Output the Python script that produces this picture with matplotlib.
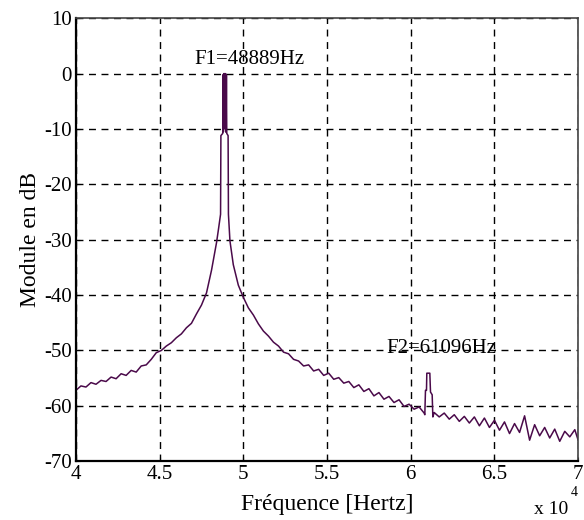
import numpy as np
import matplotlib
matplotlib.use("Agg")
import matplotlib.pyplot as plt

plt.rcParams['font.family'] = ['Liberation Serif', 'DejaVu Serif']
plt.rcParams['axes.unicode_minus'] = False

# ----- spectrum (frequency in units of 1e4 Hz, module in dB) -----
freq_left = [4.00, 4.03, 4.06, 4.09, 4.12, 4.15, 4.18, 4.21, 4.24, 4.27,
             4.30, 4.33, 4.36, 4.39, 4.42, 4.45, 4.48, 4.51, 4.54, 4.57,
             4.60, 4.63, 4.66, 4.69, 4.72, 4.75, 4.78, 4.81, 4.84]
db_left = [-57.2, -56.4, -56.6, -55.8, -56.1, -55.4, -55.6, -54.8, -55.1, -54.2,
           -54.5, -53.6, -53.9, -52.8, -52.6, -51.6, -50.4, -50.0, -49.2, -48.6,
           -47.7, -47.0, -45.9, -45.1, -43.4, -41.8, -39.6, -35.5, -30.5]

freq_peak1 = [4.852, 4.864, 4.866, 4.877, 4.879, 4.881, 4.883, 4.886, 4.888,
              4.891, 4.894, 4.897, 4.899, 4.901, 4.909, 4.911]
db_peak1 = [-28.0, -25.4, -11.2, -10.8, -0.2, -10.5, 0.0, -9.0, 0.0,
            -10.0, 0.0, -10.6, -0.3, -10.8, -11.2, -25.4]

freq_mid = [4.92, 4.94, 4.97, 5.00, 5.03, 5.06, 5.09, 5.12, 5.15, 5.18,
            5.21, 5.24, 5.27, 5.30, 5.33, 5.36, 5.39, 5.42, 5.45, 5.48,
            5.51, 5.54, 5.57, 5.60, 5.63, 5.66, 5.69, 5.72, 5.75, 5.78,
            5.81, 5.84, 5.87, 5.90, 5.93, 5.96, 5.99, 6.02, 6.05, 6.08]
db_mid = [-30.2, -34.5, -38.2, -40.4, -42.3, -43.6, -45.2, -46.5, -47.4, -48.5,
          -49.2, -50.3, -50.6, -51.6, -51.9, -52.8, -52.6, -53.7, -53.4, -54.5,
          -54.1, -55.2, -54.9, -55.9, -55.6, -56.7, -56.2, -57.4, -56.9, -58.2,
          -57.6, -58.8, -58.3, -59.4, -58.9, -60.1, -59.7, -60.6, -60.2, -61.3]

freq_peak2 = [6.084, 6.088, 6.094, 6.096, 6.114, 6.118, 6.128, 6.132]
db_peak2 = [-61.6, -57.2, -57.2, -54.1, -54.1, -57.5, -58.0, -62.0]

freq_right = [6.14, 6.17, 6.20, 6.23, 6.26, 6.29, 6.32, 6.35, 6.38, 6.41,
              6.44, 6.47, 6.50, 6.53, 6.56, 6.59, 6.62, 6.65, 6.68, 6.71,
              6.74, 6.77, 6.80, 6.83, 6.86, 6.89, 6.92, 6.95, 6.98, 7.00]
db_right = [-61.2, -62.0, -61.3, -62.4, -61.6, -62.8, -61.9, -63.1, -62.0, -63.6,
            -62.2, -63.9, -62.6, -64.4, -62.9, -65.0, -63.2, -64.8, -61.8, -66.2,
            -63.4, -65.4, -63.9, -65.8, -64.2, -66.4, -64.6, -65.6, -64.3, -66.2]

freq = np.array(freq_left + freq_peak1 + freq_mid + freq_peak2 + freq_right)
module = np.array(db_left + db_peak1 + db_mid + db_peak2 + db_right)

xticks = [4, 4.5, 5, 5.5, 6, 6.5, 7]
xticklabels = ['4', '4.5', '5', '5.5', '6', '6.5', '7']
yticks = [-70, -60, -50, -40, -30, -20, -10, 0, 10]

# ----- figure -----
fig = plt.figure(figsize=(5.84, 5.20), dpi=100)
ax = fig.add_axes([0.130, 0.113, 0.860, 0.852])

ax.plot(freq, module, color='#4a0a4a', linewidth=1.1)

ax.set_xlim(4, 7)
ax.set_ylim(-70, 10)
ax.set_xticks(xticks)
ax.set_xticklabels(xticklabels)
ax.set_yticks(yticks)
ax.tick_params(direction='in', length=3, labelsize=15, pad=3)
ax.grid(True, color='black', linestyle=(0, (5, 4)), linewidth=1.0)

for side in ['left', 'bottom']:
    ax.spines[side].set_linewidth(1.6)
for side in ['top', 'right']:
    ax.spines[side].set_linewidth(1.2)
    ax.spines[side].set_color('#444444')

ax.set_xlabel('Fréquence [Hertz]', fontsize=17, labelpad=7)
ax.set_ylabel('Module en dB', fontsize=17, labelpad=2)

ax.text(5.035, 2.5, 'F1=48889Hz', fontsize=15, ha='center', va='center')
ax.text(6.18, -49.6, 'F2=61096Hz', fontsize=15, ha='center', va='center')

# exponent of the x axis, placed like the original
fig.text(0.915, 0.004, 'x 10', fontsize=14, ha='left', va='bottom')
fig.text(0.978, 0.040, '4', fontsize=10, ha='left', va='bottom')

fig.savefig('out.png', dpi=100)
